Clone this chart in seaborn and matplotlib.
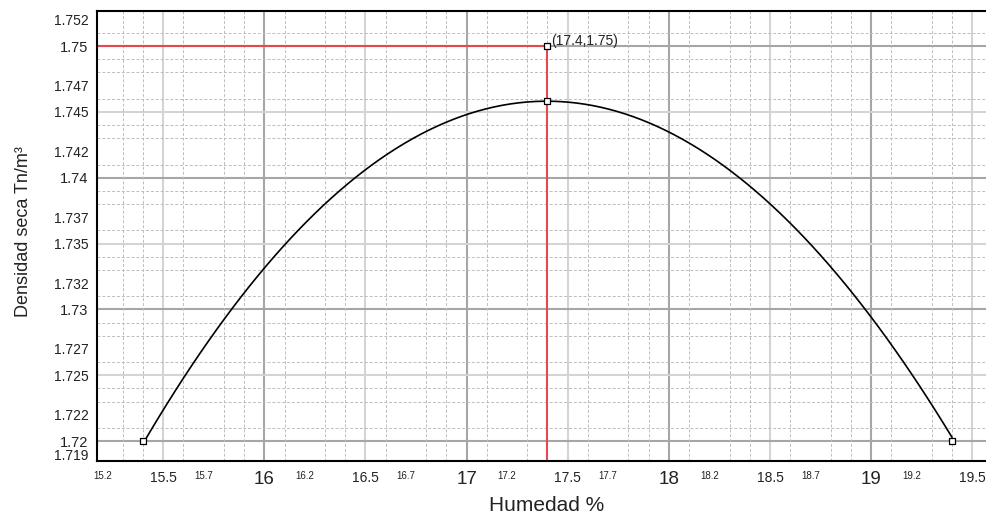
"""
Curva de compactacion: densidad seca vs humedad
"""

import numpy as np
import pandas as pd
import matplotlib
matplotlib.use('Agg')
import matplotlib.pyplot as plt
from matplotlib.ticker import MultipleLocator
import seaborn as sns

# Puntos marcados (extremos y maximo de la curva)
humedad_pts = [15.4, 17.4, 19.4]
densidad_pts = [1.72, 1.7458, 1.72]

# Lecturas de la curva ajustada
curva_humedad = [15.4, 15.5, 16.0, 16.5, 17.0, 17.4, 18.0, 18.5, 19.0, 19.4]
curva_densidad = [1.7200, 1.7221, 1.7331, 1.7408, 1.7447, 1.7458, 1.7435, 1.7379, 1.7296, 1.7202]

# Optimo
opt_humedad = 17.4
opt_densidad = 1.75

# Etiquetas de ejes
x_ticks = [15.2, 15.5, 15.7, 16, 16.2, 16.5, 16.7, 17, 17.2, 17.5, 17.7,
           18, 18.2, 18.5, 18.7, 19, 19.2, 19.5]
x_labels = ['15.2', '15.5', '15.7', '16', '16.2', '16.5', '16.7', '17', '17.2', '17.5',
            '17.7', '18', '18.2', '18.5', '18.7', '19', '19.2', '19.5']
y_ticks = [1.719, 1.72, 1.722, 1.725, 1.727, 1.73, 1.732, 1.735, 1.737,
           1.74, 1.742, 1.745, 1.747, 1.75, 1.752]
y_labels = ['1.719', '1.72', '1.722', '1.725', '1.727', '1.73', '1.732', '1.735', '1.737',
            '1.74', '1.742', '1.745', '1.747', '1.75', '1.752']

X_LIM = (15.173, 19.568)
Y_LIM = (1.71848, 1.75269)

sns.set_style('white')
plt.rcParams['font.family'] = ['Liberation Sans', 'DejaVu Sans']

fig = plt.figure(figsize=(9.86, 5.18), dpi=100)
ax = fig.add_axes([0.0984, 0.110, 0.9016, 0.8693])
ax.set_xlim(*X_LIM)
ax.set_ylim(*Y_LIM)

# Rejilla: menor punteada, intermedia clara, mayor gris
ax.xaxis.set_minor_locator(MultipleLocator(0.1))
ax.yaxis.set_minor_locator(MultipleLocator(0.001))
ax.grid(which='minor', linestyle=(0, (3, 2)), color='#bdbdbd', linewidth=0.7, zorder=0)
ax.grid(which='major', visible=False)
for xv in np.arange(15.5, 19.6, 0.5):
    major = abs(xv - round(xv)) < 1e-9
    ax.axvline(xv, color='#a6a6a6' if major else '#d4d4d4', linewidth=1.5, zorder=0.5)
for yv in np.arange(1.72, 1.7501, 0.005):
    major = abs(yv * 100 - round(yv * 100)) < 1e-6
    ax.axhline(yv, color='#a6a6a6' if major else '#d4d4d4', linewidth=1.5, zorder=0.5)

# Curva ajustada
df_curva = pd.DataFrame({'humedad': curva_humedad, 'densidad': curva_densidad})
sns.regplot(data=df_curva, x='humedad', y='densidad', order=3, ci=None, scatter=False,
            truncate=True, ax=ax, line_kws={'color': 'black', 'linewidth': 1.2, 'zorder': 3})

# Lineas del optimo
ax.hlines(opt_densidad, X_LIM[0], opt_humedad, color='#e5484d', linewidth=1.5, zorder=2)
ax.vlines(opt_humedad, Y_LIM[0], opt_densidad, color='#e5484d', linewidth=1.5, zorder=2)

# Marcadores
df_pts = pd.DataFrame({'humedad': humedad_pts + [opt_humedad],
                       'densidad': densidad_pts + [opt_densidad]})
sns.scatterplot(data=df_pts, x='humedad', y='densidad', marker='s', s=20,
                facecolor='white', edgecolor='black', linewidth=0.9, ax=ax, zorder=4)
ax.annotate(f'({opt_humedad},{opt_densidad})', xy=(opt_humedad, opt_densidad),
            xytext=(4, -2), textcoords='offset pixels', ha='left', va='bottom',
            fontsize=10, color='#222222')

# Ticks y etiquetas
ax.set_xticks(x_ticks)
ax.set_xticklabels(x_labels)
for val, lab in zip(x_ticks, ax.get_xticklabels()):
    if abs(val - round(val)) < 1e-9:
        lab.set_fontsize(13.5)
    elif abs(val * 2 - round(val * 2)) < 1e-9:
        lab.set_fontsize(10)
    else:
        lab.set_fontsize(7)
ax.set_yticks(y_ticks)
ax.set_yticklabels(y_labels)
for val, lab in zip(y_ticks, ax.get_yticklabels()):
    lab.set_fontsize(10.5 if abs(val * 100 - round(val * 100)) < 1e-6 else 10)
ax.tick_params(axis='both', which='both', length=0, colors='#222222')
ax.tick_params(axis='x', pad=7)
ax.tick_params(axis='y', pad=6)

ax.set_xlabel('Humedad %', fontsize=15, color='#222222')
ax.xaxis.label.set_va('center')
ax.xaxis.set_label_coords(0.506, -0.098)
ax.set_ylabel('Densidad seca Tn/m³', fontsize=13, color='#222222')
ax.yaxis.label.set_va('center')
ax.yaxis.set_label_coords(-0.083, 0.51)

for side in ['left', 'bottom', 'top']:
    ax.spines[side].set_color('black')
    ax.spines[side].set_linewidth(1.5)
ax.spines['right'].set_visible(False)

fig.savefig('out.png', dpi=100)
plt.close(fig)
